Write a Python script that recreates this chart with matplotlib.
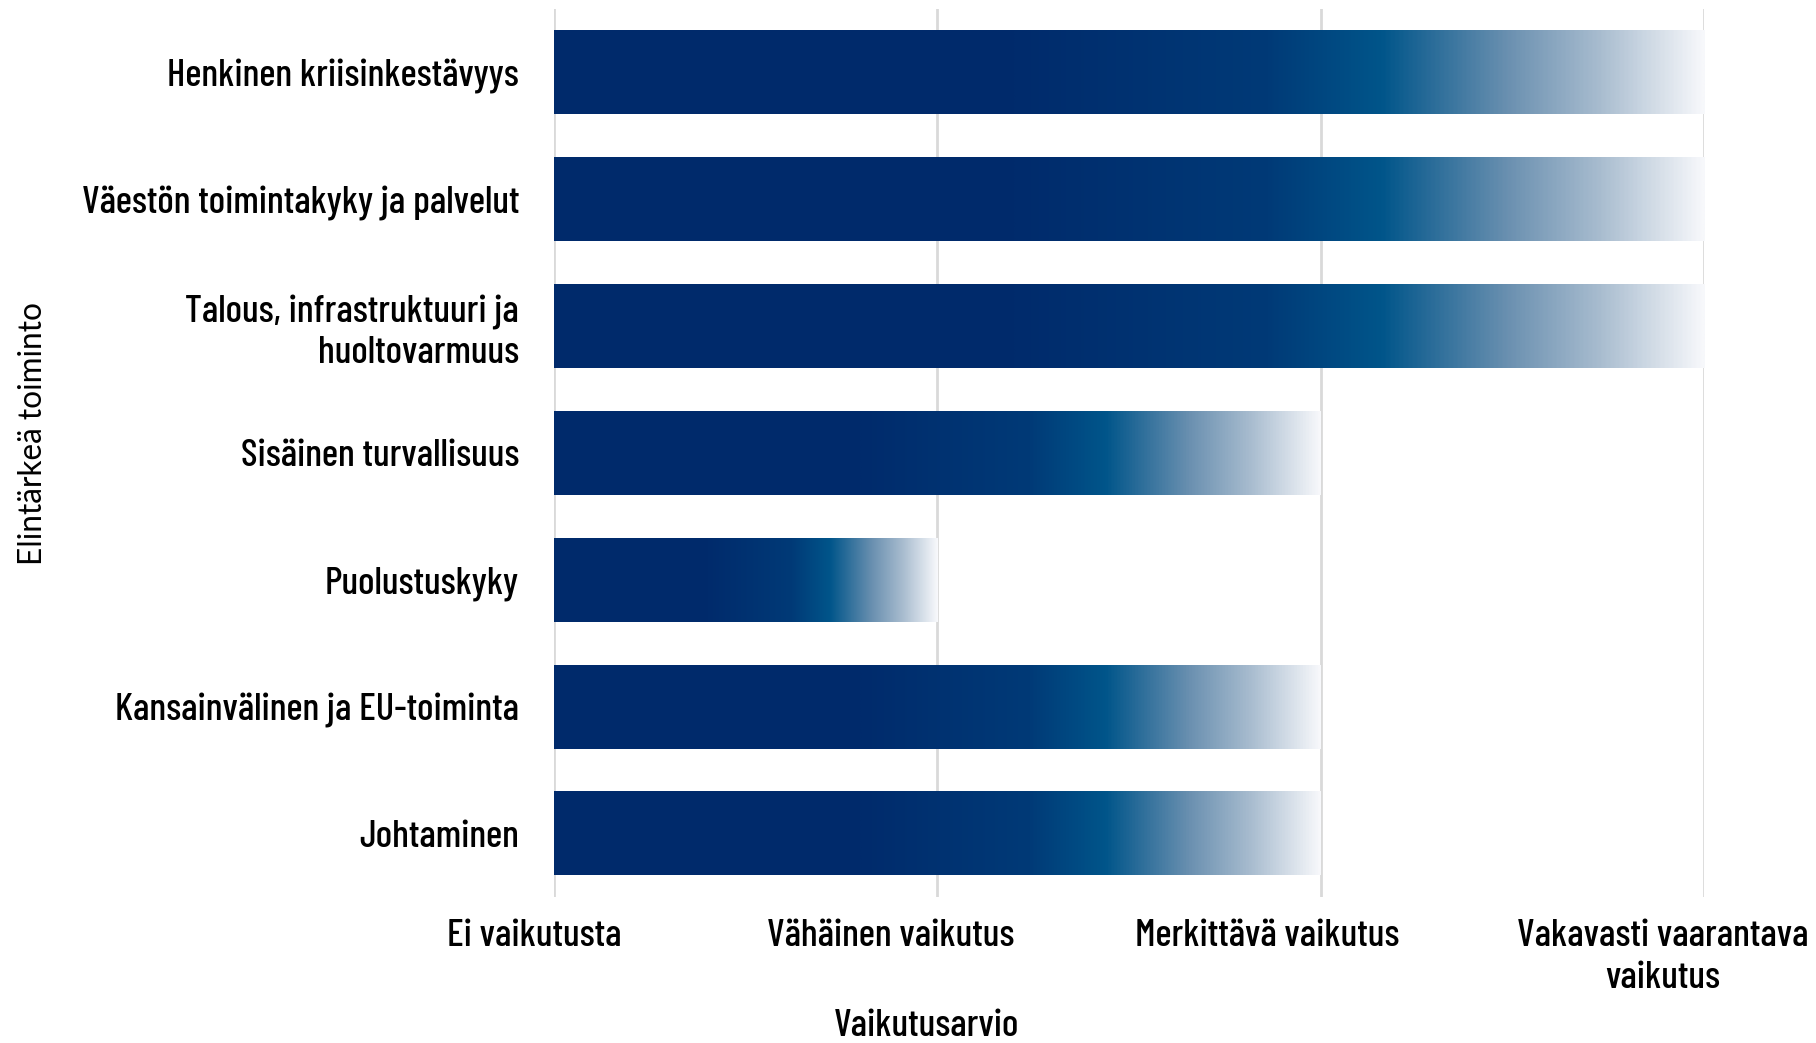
import matplotlib
matplotlib.use("Agg")
import matplotlib.pyplot as plt
import numpy as np
from matplotlib.colors import LinearSegmentedColormap
from matplotlib.transforms import ScaledTranslation

categories = ["Henkinen kriisinkestävyys", "Väestön toimintakyky ja palvelut",
              "Talous, infrastruktuuri ja\nhuoltovarmuus", "Sisäinen turvallisuus",
              "Puolustuskyky", "Kansainvälinen ja EU-toiminta", "Johtaminen"]
values = [3, 3, 3, 2, 1, 2, 2]
xtick_labels = ["Ei vaikutusta", "Vähäinen vaikutus", "Merkittävä vaikutus",
                "Vakavasti vaarantava\nvaikutus"]

FONT = ["Barlow Condensed", "DejaVu Sans"]
YLAB_FONT = ["Lato", "DejaVu Sans"]
WEIGHT = "medium"

fig = plt.figure(figsize=(18.16, 10.43), dpi=100)
ax = fig.add_axes([0.305, 0.14, 0.6335, 0.8514])

cmap = LinearSegmentedColormap.from_list("g", [
    (0.0, "#002a6b"), (0.40, "#002b6c"), (0.62, "#003a77"), (0.72, "#00558a"),
    (0.83, "#6a90b0"), (0.91, "#a8bccf"), (1.0, "#f7f8fb")])
grad = np.linspace(0, 1, 512).reshape(1, -1)

h = 0.66
for i, v in enumerate(values):
    ax.imshow(grad, cmap=cmap, aspect="auto", extent=[0, v, i + h / 2, i - h / 2],
              interpolation="bilinear", zorder=2)

ax.set_xlim(0, 3)
ax.set_ylim(6.5, -0.5)
ax.set_xticks(range(4))
ax.set_xticklabels(xtick_labels, fontsize=28, family=FONT, weight=WEIGHT, linespacing=1.3)
ax.set_yticks(range(len(categories)))
ax.set_yticklabels(categories, fontsize=28, family=FONT, weight=WEIGHT, linespacing=1.2)
ax.tick_params(length=0, axis="y", pad=25)
ax.tick_params(length=0, axis="x", pad=16)
for s in ax.spines.values():
    s.set_visible(False)
for x in range(4):
    ax.axvline(x, color="#d9d9d9", lw=2, zorder=1)

# fit tick label font size to reference width
fig.canvas.draw()
r = fig.canvas.get_renderer()
lab0 = ax.get_yticklabels()[0]
w = lab0.get_window_extent(r).width
fs = 28 * 351.0 / w
for t in ax.get_yticklabels() + ax.get_xticklabels():
    t.set_fontsize(fs)

offsets = [-20, -47, -54, -42]
for t, dx in zip(ax.get_xticklabels(), offsets):
    t.set_transform(t.get_transform() + ScaledTranslation(dx / 100.0, 0, fig.dpi_scale_trans))

ax.set_xlabel("Vaikutusarvio", fontsize=fs, family=FONT, weight=WEIGHT)
ax.xaxis.set_label_coords((927 - 554) / 1151.0, -(1026 - 897) / 888.0)
ax.xaxis.label.set_va("center")

ylab = ax.set_ylabel("Elintärkeä toiminto", fontsize=22, family=YLAB_FONT)
fig.canvas.draw()
wy = ylab.get_window_extent(r).height
ylab.set_fontsize(22 * 262.0 / wy)
ax.yaxis.set_label_coords(-(554 - 33) / 1151.0, (897 - 434) / 888.0)
ax.yaxis.label.set_va("center")

fig.savefig("out.png", dpi=100)
